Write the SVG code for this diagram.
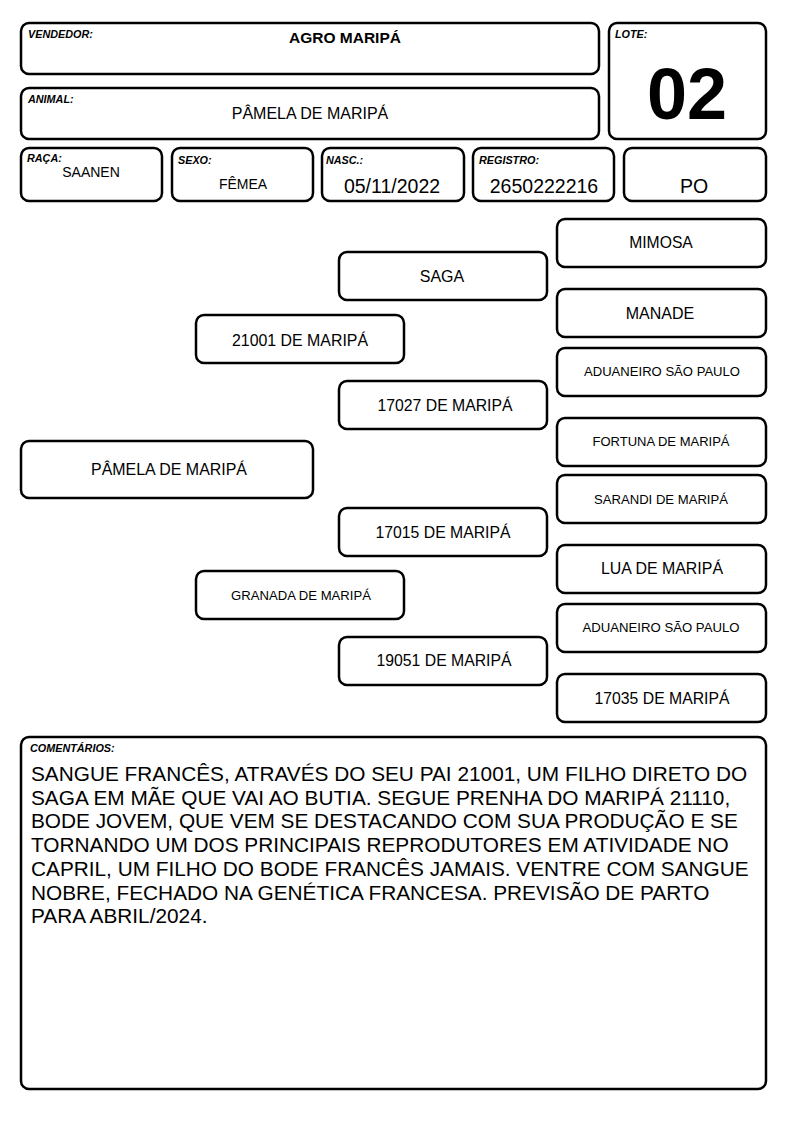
<svg xmlns="http://www.w3.org/2000/svg" width="794" height="1123" viewBox="0 0 794 1123">
<style>
.b{fill:#fff;stroke:#000;stroke-width:2.5}
.l{font-family:"Liberation Sans",Arial,sans-serif;font-size:10.8px;font-weight:bold;font-style:italic;fill:#000}
.t{font-family:"Liberation Sans",Arial,sans-serif;fill:#000;text-anchor:middle}
.c{font-family:"Liberation Sans",Arial,sans-serif;font-size:20.8px;fill:#000}
</style>
<rect width="794" height="1123" fill="#fff"/>
<g id="vendedor"><rect class="b" x="21" y="23" width="578" height="51" rx="8"/><text class="l" x="28" y="38">VENDEDOR:</text><text class="t" x="345" y="43" font-size="15.5" font-weight="bold">AGRO MARIPÁ</text></g>
<g id="lote"><rect class="b" x="609" y="23" width="157" height="116" rx="8"/><text class="l" x="615" y="38">LOTE:</text><text class="t" x="687" y="119" font-size="72" font-weight="bold">02</text></g>
<g id="animal"><rect class="b" x="21" y="88" width="578" height="51" rx="8"/><text class="l" x="28" y="103">ANIMAL:</text><text class="t" x="310" y="119" font-size="16">PÂMELA DE MARIPÁ</text></g>
<g id="raca"><rect class="b" x="21" y="148" width="141" height="53" rx="8"/><text class="l" x="27" y="162">RAÇA:</text><text class="t" x="91" y="177" font-size="14">SAANEN</text></g>
<g id="sexo"><rect class="b" x="172" y="148" width="141" height="53" rx="8"/><text class="l" x="178" y="164">SEXO:</text><text class="t" x="243" y="189" font-size="14">FÊMEA</text></g>
<g id="nasc"><rect class="b" x="322" y="148" width="142" height="53" rx="8"/><text class="l" x="326" y="164">NASC.:</text><text class="t" x="392" y="193" font-size="19.5">05/11/2022</text></g>
<g id="registro"><rect class="b" x="473" y="148" width="141" height="53" rx="8"/><text class="l" x="479" y="164">REGISTRO:</text><text class="t" x="544" y="193" font-size="19.5">2650222216</text></g>
<g id="po"><rect class="b" x="624" y="148" width="142" height="53" rx="8"/><text class="t" x="694" y="193" font-size="19.5">PO</text></g>
<g id="connectors"></g>
<g id="n-pamela"><rect class="b" x="21" y="441" width="292" height="57" rx="8"/><text class="t" x="169" y="475" font-size="16" textLength="156" lengthAdjust="spacingAndGlyphs">PÂMELA DE MARIPÁ</text></g>
<g id="n-21001"><rect class="b" x="196" y="315" width="208" height="48" rx="8"/><text class="t" x="300" y="346" font-size="16" textLength="136" lengthAdjust="spacingAndGlyphs">21001 DE MARIPÁ</text></g>
<g id="n-granada"><rect class="b" x="196" y="571" width="208" height="48" rx="8"/><text class="t" x="301" y="600" font-size="13" textLength="140" lengthAdjust="spacingAndGlyphs">GRANADA DE MARIPÁ</text></g>
<g id="n-saga"><rect class="b" x="339" y="252" width="208" height="48" rx="8"/><text class="t" x="442" y="282" font-size="16">SAGA</text></g>
<g id="n-17027"><rect class="b" x="339" y="381" width="208" height="48" rx="8"/><text class="t" x="445" y="411" font-size="16" textLength="135" lengthAdjust="spacingAndGlyphs">17027 DE MARIPÁ</text></g>
<g id="n-17015"><rect class="b" x="339" y="508" width="208" height="48" rx="8"/><text class="t" x="443" y="538" font-size="16" textLength="135" lengthAdjust="spacingAndGlyphs">17015 DE MARIPÁ</text></g>
<g id="n-19051"><rect class="b" x="339" y="637" width="208" height="48" rx="8"/><text class="t" x="444" y="666" font-size="16" textLength="135" lengthAdjust="spacingAndGlyphs">19051 DE MARIPÁ</text></g>
<g id="n-mimosa"><rect class="b" x="557" y="219" width="209" height="48" rx="8"/><text class="t" x="661" y="248" font-size="15.7">MIMOSA</text></g>
<g id="n-manade"><rect class="b" x="557" y="289" width="209" height="48" rx="8"/><text class="t" x="660" y="319" font-size="16">MANADE</text></g>
<g id="n-aduaneiro1"><rect class="b" x="557" y="348" width="209" height="48" rx="8"/><text class="t" x="662" y="376" font-size="13" textLength="156" lengthAdjust="spacingAndGlyphs">ADUANEIRO SÃO PAULO</text></g>
<g id="n-fortuna"><rect class="b" x="557" y="418" width="209" height="48" rx="8"/><text class="t" x="661" y="446" font-size="13" textLength="137" lengthAdjust="spacingAndGlyphs">FORTUNA DE MARIPÁ</text></g>
<g id="n-sarandi"><rect class="b" x="557" y="475" width="209" height="48" rx="8"/><text class="t" x="661" y="504" font-size="13" textLength="134" lengthAdjust="spacingAndGlyphs">SARANDI DE MARIPÁ</text></g>
<g id="n-lua"><rect class="b" x="557" y="545" width="209" height="48" rx="8"/><text class="t" x="662" y="574" font-size="16" textLength="122" lengthAdjust="spacingAndGlyphs">LUA DE MARIPÁ</text></g>
<g id="n-aduaneiro2"><rect class="b" x="557" y="604" width="209" height="48" rx="8"/><text class="t" x="661" y="632" font-size="13" textLength="157" lengthAdjust="spacingAndGlyphs">ADUANEIRO SÃO PAULO</text></g>
<g id="n-17035"><rect class="b" x="557" y="674" width="209" height="48" rx="8"/><text class="t" x="662" y="704" font-size="16" textLength="135" lengthAdjust="spacingAndGlyphs">17035 DE MARIPÁ</text></g>
<g id="comentarios"><rect class="b" x="21" y="737" width="745" height="352" rx="8"/><text class="l" x="30" y="752">COMENTÁRIOS:</text>
<text class="c"><tspan x="31" y="781">SANGUE FRANCÊS, ATRAVÉS DO SEU PAI 21001, UM FILHO DIRETO DO</tspan><tspan x="31" y="805">SAGA EM MÃE QUE VAI AO BUTIA. SEGUE PRENHA DO MARIPÁ 21110,</tspan><tspan x="31" y="828">BODE JOVEM, QUE VEM SE DESTACANDO COM SUA PRODUÇÃO E SE</tspan><tspan x="31" y="852">TORNANDO UM DOS PRINCIPAIS REPRODUTORES EM ATIVIDADE NO</tspan><tspan x="31" y="876">CAPRIL, UM FILHO DO BODE FRANCÊS JAMAIS. VENTRE COM SANGUE</tspan><tspan x="31" y="900">NOBRE, FECHADO NA GENÉTICA FRANCESA. PREVISÃO DE PARTO</tspan><tspan x="31" y="923">PARA ABRIL/2024.</tspan></text></g>
</svg>
